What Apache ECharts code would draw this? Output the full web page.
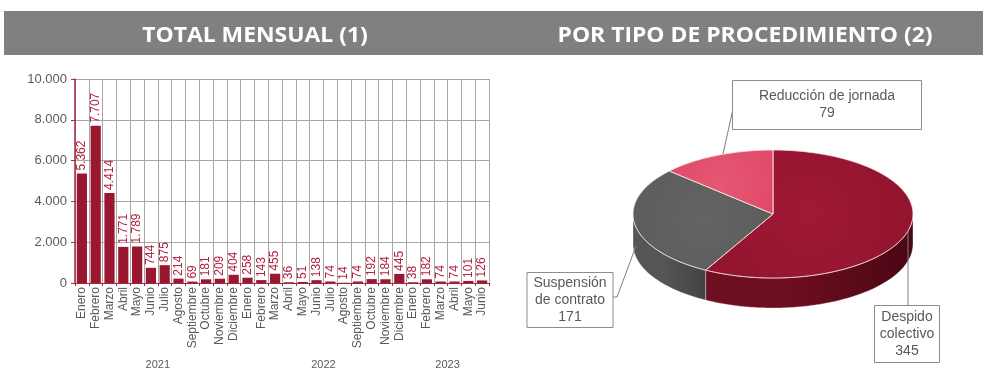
<!DOCTYPE html>
<html>
<head>
<meta charset="utf-8">
<script src="https://cdn.jsdelivr.net/npm/echarts@6/dist/echarts.min.js"></script>
<style>
  html, body { margin: 0; padding: 0; background: #fff; }
  #chart { width: 983px; height: 370px; }
</style>
</head>
<body>
<div id="chart"></div>
<script>
// Monthly totals, January 2021 - June 2023
const months = [
  'Enero','Febrero','Marzo','Abril','Mayo','Junio','Julio','Agosto','Septiembre','Octubre','Noviembre','Diciembre',
  'Enero','Febrero','Marzo','Abril','Mayo','Junio','Julio','Agosto','Septiembre','Octubre','Noviembre','Diciembre',
  'Enero','Febrero','Marzo','Abril','Mayo','Junio'
];
const monthlyTotals = [
  5362, 7707, 4414, 1771, 1789, 744, 875, 214, 69, 181, 209, 404,
  258, 143, 455, 36, 51, 138, 74, 14, 74, 192, 184, 445,
  38, 182, 74, 74, 101, 126
];
const years = ['2021', '2022', '2023'];
const yearMonthCounts = [12, 12, 6];
const yTicks = [0, 2000, 4000, 6000, 8000, 10000];

// Breakdown by procedure type
const procedureNames = ['Despido colectivo', 'Suspensión de contrato', 'Reducción de jornada'];
const procedureValues = [345, 171, 79];
const procedureLabelLines = [['Despido', 'colectivo'], ['Suspensión', 'de contrato'], ['Reducción de jornada']];

const fmt = v => String(v).replace(/\B(?=(\d{3})+(?!\d))/g, '.');

const DARK_RED = '#9a1730';
const LABEL_RED = '#b3223f';
const TEXT_GREY = '#595959';
const FONT = '"Liberation Sans", Arial, sans-serif';
const TITLE_FONT = 'bold 21px "Open Sans", sans-serif';

// 3D pie geometry (pixels)
const PIE = { cx: 773, cy: 214, rx: 140, ry: 64, depth: 30 };
const pieTop = ['#92142e', '#5c5c5c', '#e04b69'];
const pieTopLight = ['#a01936', '#646464', '#e65773'];
const pieSide = ['#4a0713', '#434343', '#a82f4a'];
const pieSideLight = ['#6e0e21', '#555555', '#bb3955'];

// Label boxes for pie slices: box centre, size, and leader points
const pieLabelBoxes = [
  { x: 907, y: 334, w: 65, h: 57, line: [[908, 231], [908, 305]] },
  { x: 570, y: 300, w: 86, h: 55, line: [[636, 246], [617, 297], [613, 297]] },
  { x: 827, y: 105, w: 189, h: 49, line: [[723, 154], [733, 109]] }
];

function ellPt(theta, dy) {
  return [PIE.cx + PIE.rx * Math.sin(theta), PIE.cy - PIE.ry * Math.cos(theta) + (dy || 0)];
}
function arcPts(a1, a2, dy) {
  const pts = [];
  const n = Math.max(2, Math.ceil(Math.abs(a2 - a1) / 0.02));
  for (let i = 0; i <= n; i++) pts.push(ellPt(a1 + (a2 - a1) * i / n, dy));
  return pts;
}

const total = procedureValues.reduce((a, b) => a + b, 0);
const starts = [];
{
  let acc = 0;
  procedureValues.forEach(v => { starts.push(acc / total * Math.PI * 2); acc += v; });
}

function renderSlice(params, api) {
  const i = params.dataIndex;
  const v = api.value(0);
  const a1 = starts[i];
  const a2 = a1 + v / total * Math.PI * 2;
  const children = [];

  // visible front wall
  const lo = Math.max(a1, Math.PI / 2), hi = Math.min(a2, Math.PI * 1.5);
  if (lo < hi) {
    const top = arcPts(lo, hi, 0);
    const bottom = arcPts(hi, lo, PIE.depth);
    children.push({
      type: 'polygon',
      shape: { points: top.concat(bottom) },
      style: {
        fill: new echarts.graphic.LinearGradient(1, 0, 0, 0, [
          { offset: 0, color: pieSide[i] },
          { offset: 0.6, color: pieSideLight[i] },
          { offset: 1, color: pieSideLight[i] }
        ], false),
        stroke: 'rgba(255,255,255,0.3)', lineWidth: 0.6
      }
    });
  }
  // top face
  const face = [[PIE.cx, PIE.cy]].concat(arcPts(a1, a2, 0));
  children.push({
    type: 'polygon',
    shape: { points: face },
    style: {
      fill: new echarts.graphic.RadialGradient(0.5, 0.5, 0.8, [
        { offset: 0, color: pieTopLight[i] },
        { offset: 1, color: pieTop[i] }
      ], false),
      stroke: 'rgba(255,235,235,0.6)', lineWidth: 0.8
    }
  });

  // label box with leader line
  const b = pieLabelBoxes[i];
  children.push({
    type: 'polyline',
    shape: { points: b.line },
    style: { stroke: '#7f7f7f', lineWidth: 1, fill: null }
  });
  children.push({
    type: 'rect',
    shape: { x: b.x - b.w / 2, y: b.y - b.h / 2, width: b.w, height: b.h },
    style: { fill: '#fff', stroke: '#8c8c8c', lineWidth: 1 }
  });
  const lines = procedureLabelLines[i].concat([fmt(v)]);
  children.push({
    type: 'text',
    style: {
      text: lines.join('\n'),
      x: b.x, y: b.y,
      align: 'center', verticalAlign: 'middle',
      font: '14px ' + FONT,
      lineHeight: 17,
      fill: TEXT_GREY
    }
  });
  return { type: 'group', children };
}

const chart = echarts.init(document.getElementById('chart'), null, { renderer: 'canvas' });

chart.setOption({
  animation: false,
  grid: { left: 75, right: 494, top: 79, bottom: 87 },
  xAxis: {
    type: 'category',
    data: months,
    boundaryGap: true,
    axisLine: { show: true, lineStyle: { color: '#a3283f', width: 1 } },
    axisTick: { show: true, length: 3, lineStyle: { color: '#a3283f' } },
    axisLabel: { interval: 0, rotate: 90, margin: 4, color: TEXT_GREY, fontSize: 12, fontFamily: FONT },
    splitLine: { show: true, interval: 0, lineStyle: { color: '#a6a6a6', width: 1 } }
  },
  yAxis: {
    type: 'value',
    min: yTicks[0], max: yTicks[yTicks.length - 1], interval: yTicks[1] - yTicks[0],
    axisLine: { show: true, lineStyle: { color: '#a3283f', width: 1.5 } },
    axisTick: { show: true, length: 4, lineStyle: { color: '#a3283f' } },
    axisLabel: { margin: 8, color: TEXT_GREY, fontSize: 13, fontFamily: FONT, formatter: v => fmt(v) },
    splitLine: { show: true, lineStyle: { color: '#a6a6a6', width: 1 } }
  },
  series: [
    {
      type: 'bar',
      data: monthlyTotals,
      barCategoryGap: '26%',
      itemStyle: { color: DARK_RED },
      label: {
        show: true, position: 'top', rotate: 90, align: 'left', verticalAlign: 'middle',
        distance: 3, color: LABEL_RED, fontSize: 12, fontFamily: FONT,
        formatter: p => fmt(p.value)
      },
      z: 3
    },
    {
      type: 'custom',
      coordinateSystem: 'none',
      data: procedureValues.map((v, i) => ({ name: procedureNames[i], value: [v] })),
      renderItem: renderSlice,
      z: 5
    }
  ]
});

// Header band, section titles and year labels centred beneath each year's months
const graphics = [
  { id: 'band', type: 'rect', left: 4, top: 11, shape: { width: 979, height: 44 }, style: { fill: '#808080' }, z: 0 },
  { id: 't1', type: 'text', x: 255, y: 36, scaleX: 1.09, style: { text: 'TOTAL MENSUAL (1)', font: TITLE_FONT, fill: '#fff', align: 'center', verticalAlign: 'middle' } },
  { id: 't2', type: 'text', x: 745, y: 36, scaleX: 1.09, style: { text: 'POR TIPO DE PROCEDIMIENTO (2)', font: TITLE_FONT, fill: '#fff', align: 'center', verticalAlign: 'middle' } }
];
{
  let startIdx = 0;
  years.forEach((y, k) => {
    const endIdx = startIdx + yearMonthCounts[k] - 1;
    const x0 = chart.convertToPixel({ xAxisIndex: 0 }, startIdx);
    const x1 = chart.convertToPixel({ xAxisIndex: 0 }, endIdx);
    graphics.push({
      id: 'year' + k, type: 'text', x: (x0 + x1) / 2, y: 365,
      style: { text: y, font: '11px ' + FONT, fill: TEXT_GREY, align: 'center', verticalAlign: 'middle' }
    });
    startIdx = endIdx + 1;
  });
}
chart.setOption({ graphic: graphics });
</script>
</body>
</html>
